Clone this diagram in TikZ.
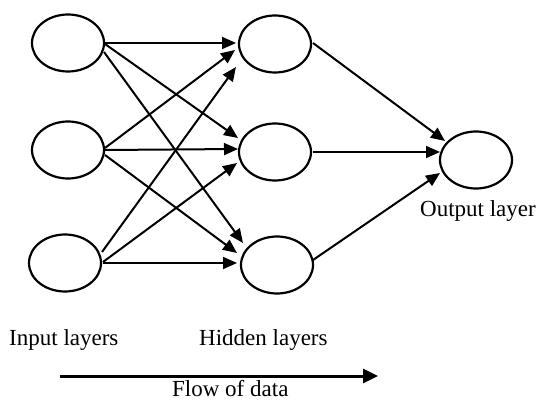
\documentclass[tikz,border=0pt]{standalone}
\usepackage{fontspec}
\setmainfont{Liberation Serif}
\usetikzlibrary{shapes.geometric,arrows.meta,calc}

\tikzset{
  neuron/.style={ellipse, draw, line width=2.2pt, minimum width=72pt, minimum height=57pt, inner sep=0pt},
  link/.style={line width=2pt, -{Triangle[length=14pt,width=12pt]}},
  flow/.style={line width=3pt, -{Triangle[length=15pt,width=14pt]}},
  caption/.style={anchor=base west, inner sep=0pt, font=\fontsize{23}{27}\selectfont}
}

\begin{document}
\begin{tikzpicture}[x=1pt,y=-1pt]
  \useasboundingbox (0,0) rectangle (547,401);

  % input layer
  \node[neuron] (i1) at (68,43) {};
  \node[neuron] (i2) at (68,150) {};
  \node[neuron] (i3) at (65,263) {};

  % hidden layer
  \node[neuron] (h1) at (275,44) {};
  \node[neuron] (h2) at (275,152) {};
  \node[neuron] (h3) at (277,265) {};

  % output layer
  \node[neuron] (o) at (476,160) {};

  % input -> hidden
  \draw[link] ($(i1)+(37,0)$) -- ($(h1)+(-39,-1)$);
  \draw[link] ($(i1)+(37,1)$) -- ($(h2)+(-37,-14)$);
  \draw[link] ($(i1)+(36,9)$) -- ($(h3)+(-34,-22)$);

  \draw[link] ($(i2)+(37,-2)$) -- ($(h1)+(-40,6)$);
  \draw[link] ($(i2)+(37,0)$) -- ($(h2)+(-37,-3)$);
  \draw[link] ($(i2)+(37,5)$) -- ($(h3)+(-40,-12)$);

  \draw[link] ($(i3)+(37,-11)$) -- ($(h1)+(-39,23)$);
  \draw[link] ($(i3)+(38,-1)$) -- ($(h2)+(-38,11)$);
  \draw[link] ($(i3)+(38,0)$) -- ($(h3)+(-40,-2)$);

  % hidden -> output
  \draw[link] ($(h1)+(38,-1)$) -- ($(o)+(-31,-19)$);
  \draw[link] ($(h2)+(38,0)$) -- ($(o)+(-36,-8)$);
  \draw[link] ($(h3)+(36,-5)$) -- ($(o)+(-36,13)$);

  % labels
  \node[caption] (lin) at (9,345) {Input layers};
  \node[caption] (lhid) at (199,345) {Hidden layers};
  \node[caption] (lout) at (420,217) {Output layer};
  \node[caption] (lflow) at (172,396) {Flow of data};

  % direction of data flow
  \coordinate (fs) at (60,376);
  \coordinate (fe) at (378,376);
  \draw[flow] (fs) -- (fe);
\end{tikzpicture}
\end{document}
